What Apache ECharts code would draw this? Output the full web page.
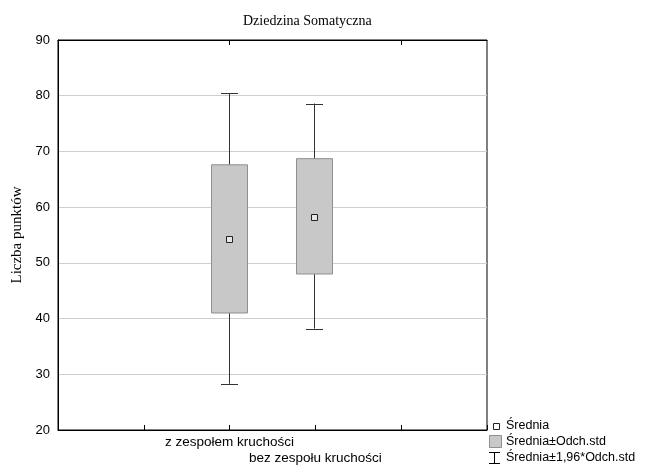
<!DOCTYPE html>
<html><head><meta charset="utf-8">
<script src="https://cdn.jsdelivr.net/npm/echarts@6/dist/echarts.min.js"></script>
<style>html,body{margin:0;padding:0;background:#fff}#c{width:647px;height:466px}</style>
</head><body><div id="c"></div>
<script>
var categories = ['z zespołem kruchości', 'bez zespołu kruchości'];
var means = [54.2, 58.2];
var sdLow = [41.0, 48.0];
var sdHigh = [67.6, 68.7];
var ciLow = [28.3, 38.2];
var ciHigh = [80.4, 78.6];
var yTicks = [20, 30, 40, 50, 60, 70, 80, 90];
var legendLabels = ['Średnia', 'Średnia±Odch.std', 'Średnia±1,96*Odch.std'];

var axisCats = ['', ''].concat(categories, ['', '']);
var data = categories.map(function (c, i) {
  return [i + 2, means[i], sdLow[i], sdHigh[i], ciLow[i], ciHigh[i]];
});

var chart = echarts.init(document.getElementById('c'));
chart.setOption({
  animation: false,
  backgroundColor: '#fff',
  title: {
    text: 'Dziedzina Somatyczna', left: 238, top: 9,
    textStyle: { fontFamily: 'Liberation Serif', fontWeight: 'normal', fontSize: 14, color: '#000' }
  },
  grid: { left: 58, right: 160, top: 40, bottom: 36, outerBoundsMode: 'none', containLabel: false,
    show: true, borderColor: '#000', borderWidth: 1, backgroundColor: 'transparent' },
  xAxis: [{
    type: 'category', data: axisCats, boundaryGap: false, position: 'bottom',
    axisLine: { show: true, lineStyle: { color: '#000' } },
    axisTick: { show: true, inside: true, length: 5, lineStyle: { color: '#000' } },
    axisLabel: {
      interval: 0, margin: 4, color: '#000', fontFamily: 'Liberation Sans', fontSize: 13.5, lineHeight: 16,
      formatter: function (v, idx) { return idx === 3 ? '\n' + v : v; }
    },
    splitLine: { show: false }
  }, {
    type: 'category', data: axisCats, boundaryGap: false, position: 'top',
    axisLine: { show: true, lineStyle: { color: '#000' } },
    axisTick: { show: true, inside: true, length: 5, lineStyle: { color: '#000' } },
    axisLabel: { show: false }
  }],
  yAxis: {
    type: 'value', min: 20, max: 90, interval: 10,
    name: 'Liczba punktów', nameLocation: 'middle', nameGap: 33,
    nameTextStyle: { fontFamily: 'Liberation Serif', fontSize: 15, color: '#000' },
    axisLine: { show: true, lineStyle: { color: '#000' } },
    axisTick: { show: false },
    axisLabel: { color: '#000', fontFamily: 'Liberation Sans', fontSize: 13, margin: 8 },
    splitLine: { show: true, lineStyle: { color: '#cfcfcf', width: 1 } }
  },
  series: [{
    type: 'custom',
    data: data,
    renderItem: function (params, api) {
      var x = api.value(0);
      var pMean = api.coord([x, api.value(1)]);
      var pSdL = api.coord([x, api.value(2)]);
      var pSdH = api.coord([x, api.value(3)]);
      var pCiL = api.coord([x, api.value(4)]);
      var pCiH = api.coord([x, api.value(5)]);
      var cx = Math.round(pMean[0]) - 0.5;
      var bw = 36, cw = 17, ms = 6;
      var ls = { stroke: '#333', lineWidth: 1 };
      return {
        type: 'group',
        children: [
          { type: 'line', shape: { x1: cx, y1: pCiH[1], x2: cx, y2: pCiL[1] }, style: ls },
          { type: 'line', shape: { x1: cx - cw / 2, y1: Math.round(pCiH[1]) + 0.5, x2: cx + cw / 2, y2: Math.round(pCiH[1]) + 0.5 }, style: ls },
          { type: 'line', shape: { x1: cx - cw / 2, y1: Math.round(pCiL[1]) + 0.5, x2: cx + cw / 2, y2: Math.round(pCiL[1]) + 0.5 }, style: ls },
          { type: 'rect', shape: { x: cx - bw / 2, y: pSdH[1], width: bw, height: pSdL[1] - pSdH[1] },
            style: { fill: '#c8c8c8', stroke: '#8f8f8f', lineWidth: 1 } },
          { type: 'rect', shape: { x: cx - ms / 2, y: Math.round(pMean[1]) - ms / 2 + 0.5, width: ms, height: ms },
            style: { fill: '#e6e6e6', stroke: '#222', lineWidth: 1 } }
        ]
      };
    }
  }],
  graphic: [
    { type: 'rect', left: 493, top: 423, shape: { width: 6, height: 6 }, style: { fill: '#fff', stroke: '#222', lineWidth: 1 } },
    { type: 'text', left: 506, top: 419, style: { text: legendLabels[0], font: '12.5px "Liberation Sans"', fill: '#000' } },
    { type: 'rect', left: 489, top: 435, shape: { width: 12, height: 12 }, style: { fill: '#c8c8c8', stroke: '#8f8f8f', lineWidth: 1 } },
    { type: 'text', left: 506, top: 435, style: { text: legendLabels[1], font: '12.5px "Liberation Sans"', fill: '#000' } },
    { type: 'line', shape: { x1: 489, y1: 452.5, x2: 500, y2: 452.5 }, style: { stroke: '#000', lineWidth: 1 } },
    { type: 'line', shape: { x1: 494.5, y1: 452, x2: 494.5, y2: 463 }, style: { stroke: '#000', lineWidth: 1 } },
    { type: 'line', shape: { x1: 489, y1: 463.5, x2: 500, y2: 463.5 }, style: { stroke: '#000', lineWidth: 1 } },
    { type: 'text', left: 506, top: 451, style: { text: legendLabels[2], font: '12.5px "Liberation Sans"', fill: '#000' } }
  ]
});
</script></body></html>
